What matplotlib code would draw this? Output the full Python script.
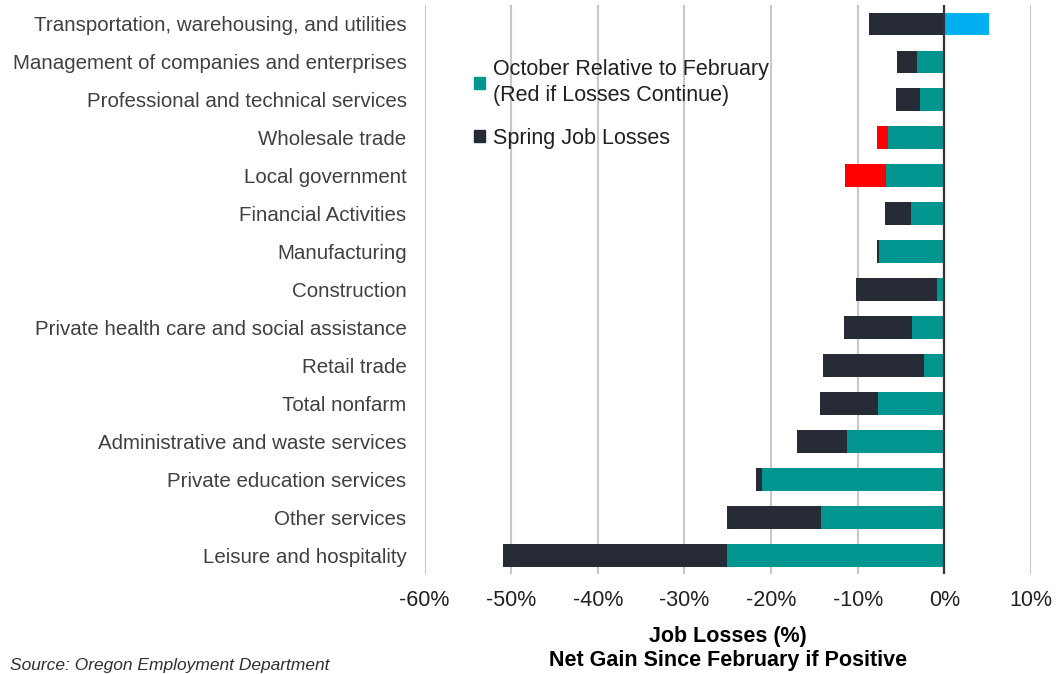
import numpy as np
import matplotlib.pyplot as plt
from matplotlib.patches import Patch, Rectangle

plt.rcParams['font.family'] = ['Liberation Sans', 'DejaVu Sans']

# Categorias de arriba a abajo
categorias = [
    'Transportation, warehousing, and utilities',
    'Management of companies and enterprises',
    'Professional and technical services',
    'Wholesale trade',
    'Local government',
    'Financial Activities',
    'Manufacturing',
    'Construction',
    'Private health care and social assistance',
    'Retail trade',
    'Total nonfarm',
    'Administrative and waste services',
    'Private education services',
    'Other services',
    'Leisure and hospitality',
]
# Perdida en primavera (%) y situacion en octubre respecto a febrero (%)
primavera = [-8.7, -5.5, -5.6, -6.5, -6.7, -6.8, -7.8, -10.2, -11.6, -14.0, -14.4, -17.0, -21.8, -25.1, -51.0]
octubre = [5.2, -3.2, -2.8, -7.8, -11.5, -3.9, -7.5, -0.9, -3.7, -2.3, -7.7, -11.2, -21.0, -14.2, -25.1]

TEAL = '#00958F'
OSCURO = '#262B36'
ROJO = '#FF0000'
AZUL = '#00B0F0'

primavera = np.array(primavera)
octubre = np.array(octubre)
y = np.arange(len(categorias))

fig = plt.figure(figsize=(10.59, 6.74), dpi=100)
ax = fig.add_axes([0.401, 0.148, 0.5725, 0.8446])

h = 0.6
for i in y:
    p, o = primavera[i], octubre[i]
    if o > 0:
        # ganancia neta: azul a la derecha, perdida de primavera a la izquierda
        ax.barh(i, o, height=h, color=AZUL, zorder=3)
        ax.barh(i, p, height=h, color=OSCURO, zorder=3)
    elif o < p:
        # las perdidas continuan: rojo mas alla de la perdida de primavera
        ax.barh(i, p, height=h, color=TEAL, zorder=3)
        ax.barh(i, o - p, left=p, height=h, color=ROJO, zorder=3)
    else:
        ax.barh(i, o, height=h, color=TEAL, zorder=3)
        ax.barh(i, p - o, left=o, height=h, color=OSCURO, zorder=3)

ax.set_xlim(-60, 10)
ax.set_ylim(len(categorias) - 0.5, -0.5)
ax.set_xticks(np.arange(-60, 11, 10))
ax.set_xticklabels([f'{v}%' for v in range(-60, 11, 10)], fontsize=15.5)
ax.set_yticks(y)
ax.set_yticklabels(categorias, fontsize=14.8, color='#404040')
ax.tick_params(axis='y', length=0, pad=13)
ax.tick_params(axis='x', length=0, pad=11, colors='#202020')
for s in ax.spines.values():
    s.set_visible(False)
ax.grid(axis='x', color='#C8C8C8', linewidth=1.5, zorder=0)
ax.axvline(0, color='#333333', linewidth=1.6, zorder=4)

# fondo blanco de la leyenda que tapa la rejilla
ax.add_patch(Rectangle((0, 0.613), 0.62, 0.30, transform=ax.transAxes,
                       facecolor='white', edgecolor='none', zorder=1))

handles = [Patch(color=TEAL, label='October Relative to February\n(Red if Losses Continue)'),
           Patch(color=OSCURO, label='Spring Job Losses')]
leg = ax.legend(handles=handles, loc='upper left', bbox_to_anchor=(0.05, 0.94),
                frameon=False, fontsize=15.5, handlelength=0.5, handleheight=0.5,
                handletextpad=0.35, labelspacing=1.0)
for t in leg.get_texts():
    t.set_linespacing(1.35)
    t.set_color('#202020')

ax.set_xlabel('Job Losses (%)\nNet Gain Since February if Positive',
              fontsize=15.5, fontweight='bold', labelpad=11, linespacing=1.2)

fig.text(0.009, 0.001, 'Source: Oregon Employment Department', fontsize=12.5,
         style='italic', color='#303030', ha='left', va='bottom')

fig.savefig('out.png', dpi=100)
